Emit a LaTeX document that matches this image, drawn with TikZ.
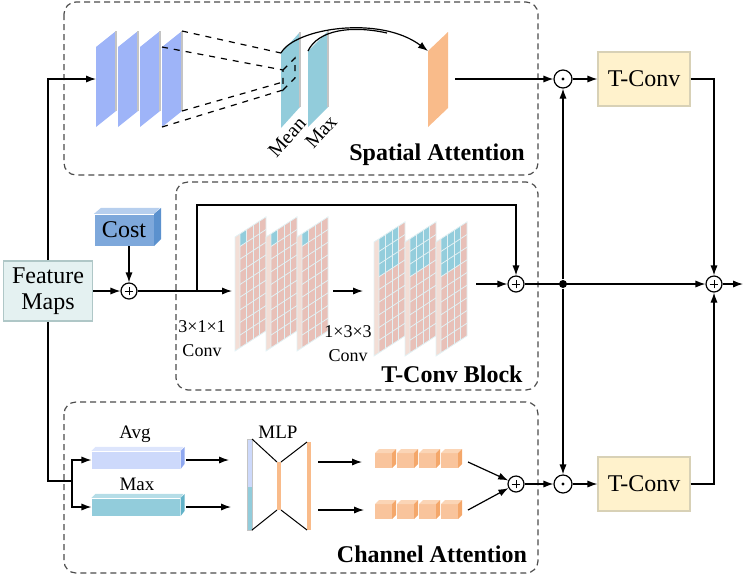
\documentclass[tikz,border=0pt]{standalone}
\usepackage{fontspec}
\setmainfont{Liberation Serif}
\usetikzlibrary{arrows.meta,positioning}

\definecolor{planeblue}{HTML}{9EB4F8}
\definecolor{planeteal}{HTML}{92CCDB}
\definecolor{planeorange}{HTML}{F9BB8A}
\definecolor{edgegray}{HTML}{C4C4C4}
\definecolor{cellpink}{HTML}{E8C0B8}
\definecolor{cellstrip}{HTML}{F3DED6}
\definecolor{cellline}{HTML}{E2F1F4}
\definecolor{cellblue}{HTML}{93CDDC}
\definecolor{fmfill}{HTML}{E4F1F1}
\definecolor{fmline}{HTML}{AFC7C7}
\definecolor{costfront}{HTML}{7EA8DB}
\definecolor{costtop}{HTML}{B7CFEE}
\definecolor{costside}{HTML}{5B91CE}
\definecolor{tconvfill}{HTML}{FFF2CC}
\definecolor{tconvline}{HTML}{D8D1B6}
\definecolor{avgfill}{HTML}{CDD9FB}
\definecolor{avgtop}{HTML}{DDE5FC}
\definecolor{avgside}{HTML}{8FA8F0}
\definecolor{maxtop}{HTML}{B5DDE7}
\definecolor{maxside}{HTML}{62B2C8}
\definecolor{cubefront}{HTML}{F9C49C}
\definecolor{cubetop}{HTML}{FBD5B6}
\definecolor{cubeside}{HTML}{F4A76A}

\begin{document}
\begin{tikzpicture}[x=0.5pt, y=-0.5pt, line width=0.6pt,
    >={Latex[length=5pt,width=3.6pt]},
    groupbox/.style={draw=black!70, dash pattern=on 3pt off 2pt, rounded corners=6pt},
    boxtitle/.style={font=\fontsize{12}{14}\selectfont\bfseries},
    txtmain/.style={font=\fontsize{12}{13}\selectfont},
    txtsmall/.style={font=\fontsize{9.5}{11}\selectfont},
    txtconv/.style={font=\fontsize{9}{12}\selectfont, align=center},
    txtrot/.style={font=\fontsize{10}{12}\selectfont, rotate=48, inner sep=0pt},
    addnode/.style={circle, draw, fill=white, minimum size=8pt, inner sep=0pt,
        path picture={\draw[black, line width=0.5pt]
            ([xshift=-2.2pt]path picture bounding box.center) -- ([xshift=2.2pt]path picture bounding box.center)
            ([yshift=-2.2pt]path picture bounding box.center) -- ([yshift=2.2pt]path picture bounding box.center);}},
    mulnode/.style={circle, draw, fill=white, minimum size=9pt, inner sep=0pt,
        path picture={\fill[black] (path picture bounding box.center) circle (0.8pt);}},
    tconvbox/.style={draw=tconvline, fill=tconvfill, minimum width=46pt, minimum height=27pt, txtmain},
    gridline/.style={draw=cellline, line width=0.4pt},
    planeedge/.style={draw=edgegray, line width=1.2pt}]

    \useasboundingbox (0,0) rectangle (744,580);

    % dashed group frames
    \draw[groupbox] (64,2) rectangle (538,175);
    \draw[groupbox] (176,182) rectangle (538,390);
    \draw[groupbox] (64,402) rectangle (538,573);
    \node (satitle) [boxtitle] at (437,155) {Spatial Attention};
    \node (tctitle) [boxtitle] at (452,374) {T-Conv Block};
    \node (catitle) [boxtitle] at (432,554) {Channel Attention};

    % input
    \node (fm) [draw=fmline, fill=fmfill, line width=0.8pt, minimum width=44.5pt, minimum height=28pt, align=center, txtmain] at (48,291) {Feature\\Maps};
    \node (cost) [fill=costfront, minimum width=29.5pt, minimum height=15.5pt, inner sep=0pt, txtmain] at (124,230) {Cost};
    \fill[costtop] (cost.north west) -- ++(7,-6) -- ++(59,0) -- (cost.north east) -- cycle;
    \fill[costside] (cost.north east) -- ++(7,-6) -- ++(0,31) -- (cost.south east) -- cycle;
    \node (p1) [addnode] at (129,291) {};

    \draw[->] (fm) -- (p1);
    \draw[->] (cost.south -| p1) -- (p1);

    % spatial attention
    \foreach \x in {96,118,140,162} {
        \fill[planeblue] (\x,47) -- ++(20,-16) -- ++(0,80) -- ++(-20,16) -- cycle;
        \draw[planeedge] ({\x+20},31) -- ++(0,80);
    }
    \fill[planeteal] (281,53) -- ++(19,-21) -- ++(0,75) -- ++(-19,21) -- cycle;
    \draw[planeedge] (300,32) -- ++(0,75);
    \fill[planeteal] (308,51) -- ++(20,-20) -- ++(0,76) -- ++(-20,20) -- cycle;
    \draw[planeedge] (328,31) -- ++(0,76);
    \fill[planeorange] (428,51) -- ++(20,-19) -- ++(0,76) -- ++(-20,19) -- cycle;

    \draw[dashed] (182,31) -- (281,53);
    \draw[dashed] (162,47) -- (283,70);
    \draw[dashed] (182,111) -- (283,82);
    \draw[dashed] (162,127) -- (283,90);
    \draw[dashed] (283,70) -- (295,58) -- (295,78) -- (283,90) -- cycle;

    \node (meanlbl) [txtrot] at (287,137) {Mean};
    \node (maxlbl) [txtrot] at (321,132) {Max};

    \coordinate (meantop) at (281,53);
    \coordinate (maxtop) at (308,51);
    \coordinate (merge) at (387,33);
    \coordinate (outtop) at (428,51);
    \draw[->] (meantop) .. controls (295,28) and (380,15) .. (outtop);
    \draw (maxtop) .. controls (318,30) and (351,25) .. (merge);

    \coordinate (inplane) at (96,79);
    \coordinate (outplane) at (455,79);
    \draw[->] (fm.north) |- (inplane);

    % T-Conv block
    \foreach \x in {235,266,297} {
        \begin{scope}[shift={(\x,237)}, yslant=0.65]
            \fill[cellstrip] (0,0) rectangle (5,114);
            \fill[cellpink] (5,0) rectangle (31,114);
            \fill[cellblue] (5,0) rectangle (11.5,12.67);
            \foreach \i in {1,2,3} \draw[gridline] ({5+6.5*\i},0) -- ++(0,114);
            \foreach \j in {1,...,8} \draw[gridline] (5,{12.67*\j}) -- ++(26,0);
            \draw[gridline] (0,0) rectangle (31,114) (5,0) -- (5,114);
        \end{scope}
    }
    \foreach \x in {374,405,436} {
        \begin{scope}[shift={(\x,242)}, yslant=0.65]
            \fill[cellstrip] (0,0) rectangle (5,114);
            \fill[cellpink] (5,0) rectangle (31,114);
            \fill[cellblue] (5,0) rectangle (24.5,38);
            \foreach \i in {1,2,3} \draw[gridline] ({5+6.5*\i},0) -- ++(0,114);
            \foreach \j in {1,...,8} \draw[gridline] (5,{12.67*\j}) -- ++(26,0);
            \draw[gridline] (0,0) rectangle (31,114) (5,0) -- (5,114);
        \end{scope}
    }
    \node (conv1) [txtconv] at (202,339) {3×1×1\\Conv};
    \node (conv2) [txtconv] at (348,344) {1×3×3\\Conv};

    \node (p2) [addnode] at (516,284) {};
    \coordinate (skip) at (197,291);
    \coordinate (g1in) at (232,291);
    \coordinate (g1out) at (333,291);
    \coordinate (g2in) at (363,291);
    \coordinate (g2out) at (476,284);
    \draw[->] (p1) -- (g1in);
    \draw[->] (skip) -- ++(0,-86) -| (p2);
    \draw[->] (g1out) -- (g2in);
    \draw[->] (g2out) -- (p2);

    % channel attention
    \node (avg) [fill=avgfill, minimum width=44pt, minimum height=8.5pt, inner sep=0pt] at (136,460) {};
    \fill[avgtop] (avg.north west) -- ++(4,-4) -- ++(88,0) -- (avg.north east) -- cycle;
    \fill[avgside] (avg.north east) -- ++(4,-4) -- ++(0,17) -- (avg.south east) -- cycle;
    \node (maxbar) [fill=planeteal, minimum width=44pt, minimum height=8.5pt, inner sep=0pt] at (136,507) {};
    \fill[maxtop] (maxbar.north west) -- ++(4,-4) -- ++(88,0) -- (maxbar.north east) -- cycle;
    \fill[maxside] (maxbar.north east) -- ++(4,-4) -- ++(0,17) -- (maxbar.south east) -- cycle;
    \node (avglbl) [txtsmall] at (135,434) {Avg};
    \node (maxbarlbl) [txtsmall] at (137,484) {Max};

    \coordinate (cabr) at (72,481);
    \draw (fm.south) |- (cabr);
    \draw[->] (cabr) |- (avg);
    \draw[->] (cabr) |- (maxbar);

    % MLP
    \fill[avgfill] (247,439) rectangle (252,487);
    \fill[planeteal] (247,487) rectangle (252,530);
    \draw[edgegray, line width=0.4pt] (247,439) rectangle (252,530);
    \fill[planeorange] (277,462) rectangle (281,510);
    \fill[planeorange] (307,442) rectangle (311,530);
    \draw[line width=0.5pt] (252,439) -- (277,462) (281,462) -- (307,442);
    \draw[line width=0.5pt] (252,530) -- (277,510) (281,510) -- (307,530);
    \node (mlplbl) [txtsmall] at (278,432) {MLP};

    \coordinate (avgout) at (186,460);
    \coordinate (mlpin1) at (229,460);
    \coordinate (maxout) at (186,507);
    \coordinate (mlpin2) at (231,507);
    \coordinate (mlpout1) at (318,462);
    \coordinate (row1in) at (362,462);
    \coordinate (mlpout2) at (318,510);
    \coordinate (row2in) at (364,510);
    \draw[->] (avgout) -- (mlpin1);
    \draw[->] (maxout) -- (mlpin2);
    \draw[->] (mlpout1) -- (row1in);
    \draw[->] (mlpout2) -- (row2in);

    \foreach \x in {375,397,419,441} {
        \foreach \y in {453,504} {
            \fill[cubefront] (\x,\y) rectangle ++(17,15);
            \fill[cubetop] (\x,\y) -- ++(4,-4) -- ++(17,0) -- ++(-4,4) -- cycle;
            \fill[cubeside] ({\x+17},\y) -- ++(4,-4) -- ++(0,15) -- ++(-4,4) -- cycle;
        }
    }

    \node (p3) [addnode] at (516,484) {};
    \coordinate (row1out) at (468,462);
    \coordinate (row2out) at (468,510);
    \draw[->] (row1out) -- (p3);
    \draw[->] (row2out) -- (p3);

    % fusion
    \node (o1) [mulnode] at (563,79) {};
    \node (o2) [mulnode] at (563,484) {};
    \node (t1) [tconvbox] at (644,79) {T-Conv};
    \node (t2) [tconvbox] at (644,484) {T-Conv};
    \node (p4) [addnode] at (714,284) {};
    \node (dot) [circle, fill, inner sep=0pt, minimum size=4pt] at (563,284) {};
    \coordinate (out) at (743,284);

    \draw[->] (outplane) -- (o1);
    \draw[->] (p2) -- (p4);
    \draw[->] (dot) -- (o1);
    \draw[->] (dot) -- (o2);
    \draw[->] (p3) -- (o2);
    \draw[->] (o1) -- (t1);
    \draw[->] (o2) -- (t2);
    \draw[->] (t1) -| (p4);
    \draw[->] (t2) -| (p4);
    \draw[->] (p4) -- (out);
\end{tikzpicture}
\end{document}
